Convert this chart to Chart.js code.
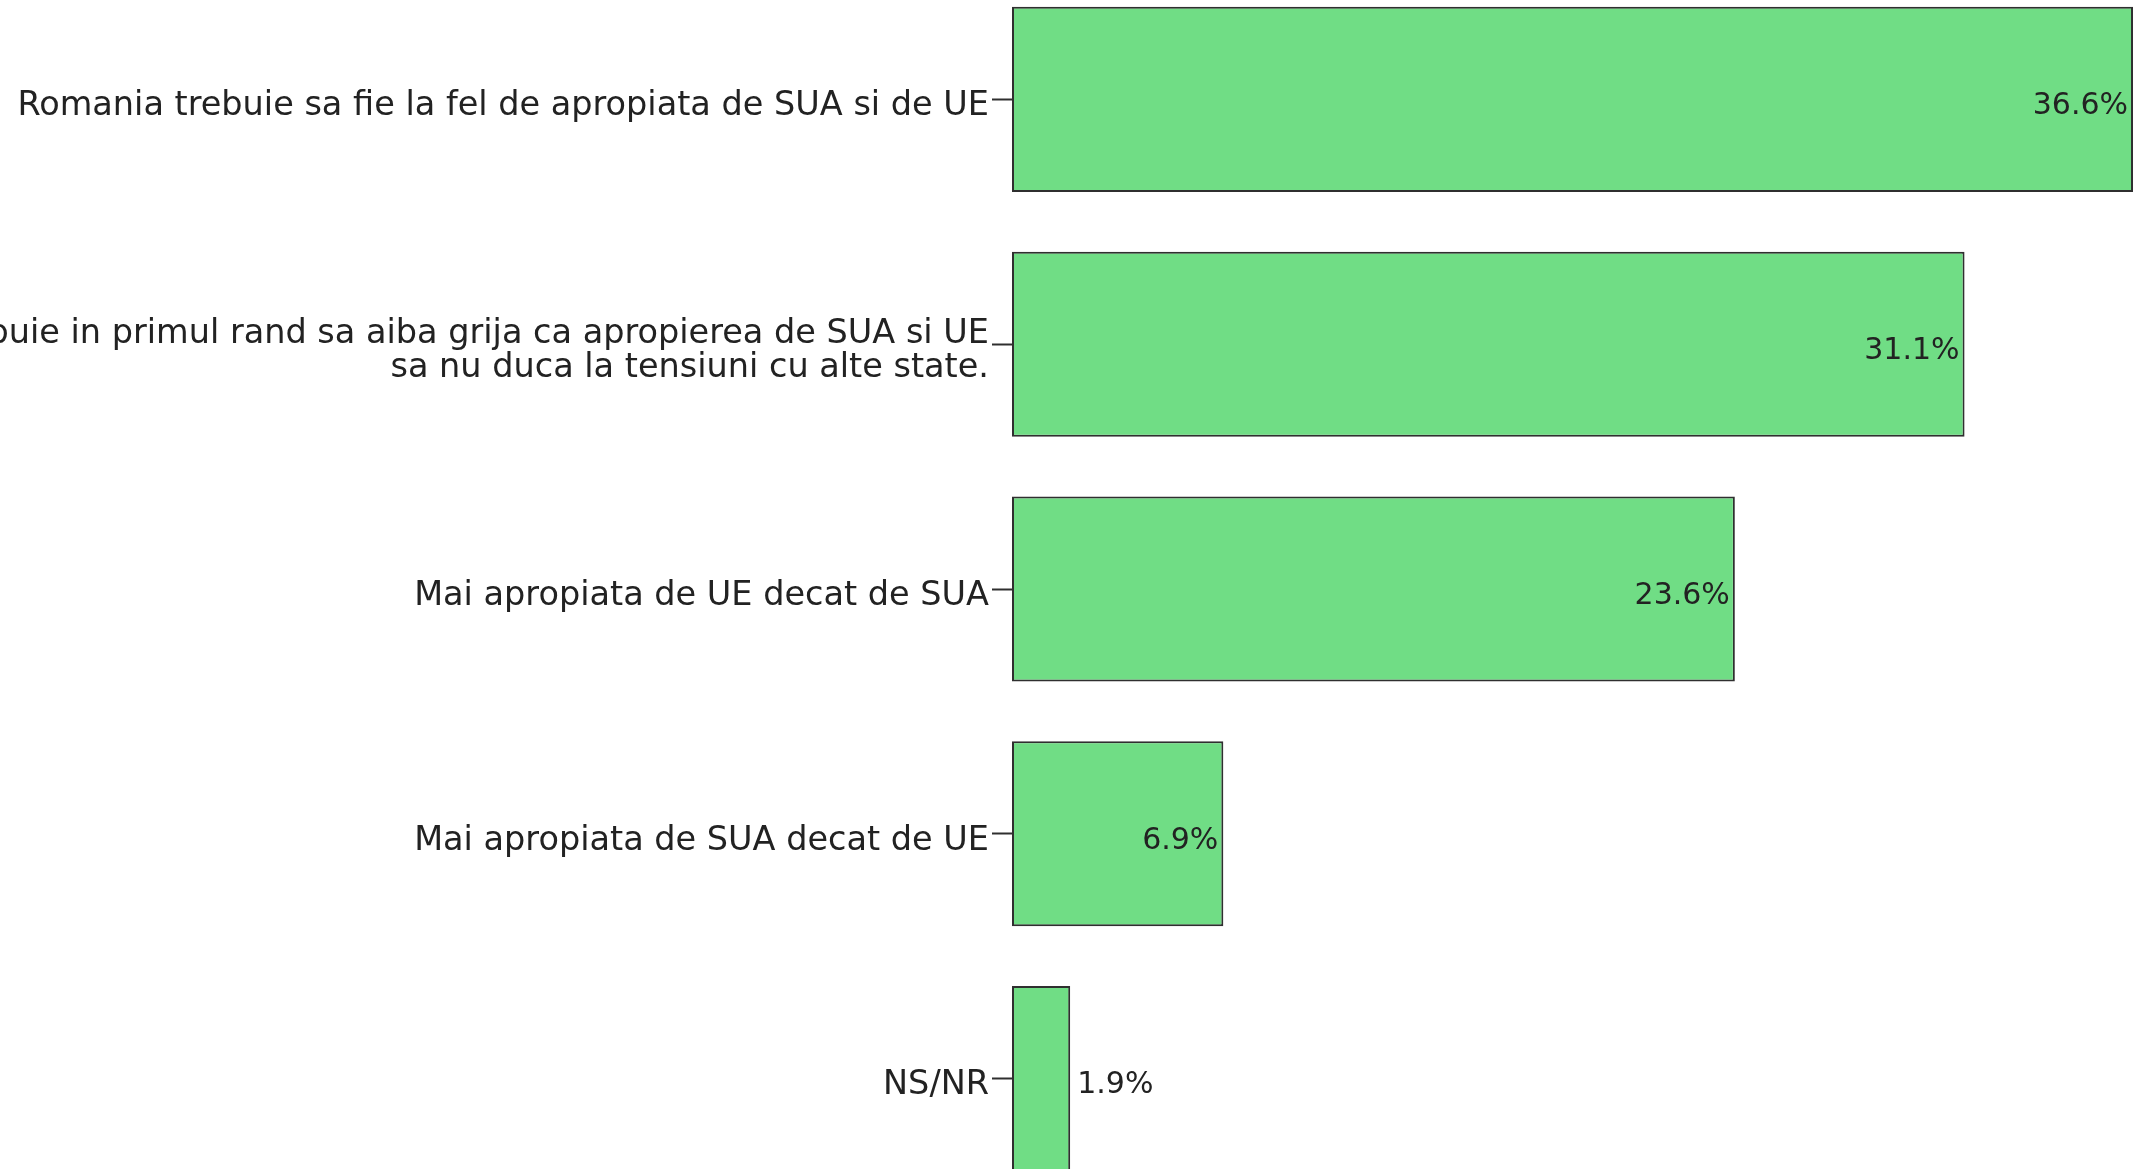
<!DOCTYPE html>
<html>
<head>
<meta charset="utf-8">
<script src="https://cdn.jsdelivr.net/npm/chart.js@4/dist/chart.umd.min.js"></script>
<style>
  html, body { margin: 0; padding: 0; background: #fff; overflow: hidden; }
  #wrap { position: absolute; left: 0; top: -23px; width: 2156px; height: 1224px; }
</style>
</head>
<body>
<div id="wrap"><canvas id="barChart"></canvas></div>
<script>
// data
const categories = [
    'Romania trebuie sa fie la fel de apropiata de SUA si de UE',
    ['Romania trebuie in primul rand sa aiba grija ca apropierea de SUA si UE', 'sa nu duca la tensiuni cu alte state.'],
    'Mai apropiata de UE decat de SUA',
    'Mai apropiata de SUA decat de UE',
    'NS/NR'
];
const percents = [36.6, 31.1, 23.6, 6.9, 1.9];

// value labels: inside the bar end, or just outside when the bar is too short
const valueLabels = {
    id: 'valueLabels',
    afterDatasetsDraw(chart) {
        const ctx = chart.ctx;
        const meta = chart.getDatasetMeta(0);
        ctx.save();
        ctx.font = '30px "DejaVu Sans"';
        ctx.fillStyle = '#222';
        ctx.textBaseline = 'middle';
        meta.data.forEach((bar, i) => {
            const text = percents[i].toFixed(1) + '%';
            const w = ctx.measureText(text).width;
            const len = bar.x - bar.base;
            if (len > w + 16) {
                ctx.textAlign = 'right';
                ctx.fillText(text, bar.x - 5, bar.y + 7);
            } else {
                ctx.textAlign = 'left';
                ctx.fillText(text, bar.x + 7, bar.y + 7);
            }
        });
        ctx.restore();
    }
};

const ctx = document.getElementById('barChart').getContext('2d');
new Chart(ctx, {
    type: 'bar',
    data: {
        labels: categories,
        datasets: [{
            data: percents,
            backgroundColor: 'rgb(112, 221, 133)',
            borderColor: '#2f2f2f',
            borderWidth: 2,
            borderSkipped: false,
            categoryPercentage: 1.0,
            barPercentage: 0.756
        }]
    },
    options: {
        indexAxis: 'y',
        responsive: true,
        maintainAspectRatio: false,
        animation: false,
        layout: { padding: 0 },
        plugins: {
            legend: { display: false },
            tooltip: { enabled: false }
        },
        scales: {
            x: {
                display: false,
                min: 0,
                max: 37.35
            },
            y: {
                afterFit: (scale) => {
                    scale.width = 1012;
                    scale.paddingTop = 0;
                    scale.paddingBottom = 0;
                },
                border: { display: false },
                grid: {
                    offset: false,
                    drawOnChartArea: false,
                    drawTicks: true,
                    tickLength: 20,
                    tickWidth: 2,
                    color: '#2f2f2f'
                },
                ticks: {
                    color: '#222',
                    padding: 3,
                    labelOffset: 7,
                    font: { family: 'DejaVu Sans', size: 33.5, lineHeight: 1.03 }
                }
            }
        }
    },
    plugins: [valueLabels]
});
</script>
</body>
</html>
